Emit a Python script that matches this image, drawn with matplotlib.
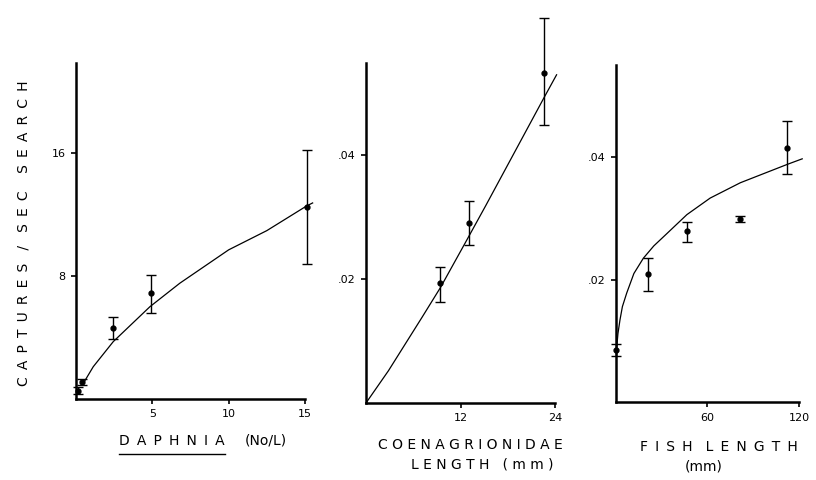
import numpy as np
import matplotlib
matplotlib.use("Agg")
import matplotlib.pyplot as plt
from matplotlib.lines import Line2D

plt.rcParams['font.family'] = ['DejaVu Sans']

# Daphnia density (No/L)
daph_x = [0.1, 0.4, 2.4, 4.9, 15.1]
daph_y = [0.55, 1.1, 4.6, 6.9, 12.5]
daph_lo = [0.35, 0.9, 3.9, 5.6, 8.8]
daph_hi = [0.75, 1.3, 5.3, 8.05, 16.2]
daph_fit_x = [0.48, 1.13, 2.44, 4.84, 6.8, 10.0, 12.5, 15.1, 15.5]
daph_fit_y = [1.02, 2.10, 3.73, 6.0, 7.53, 9.7, 10.95, 12.55, 12.75]

# Coenagrionidae length (mm)
coen_x = [9.45, 13.1, 22.6]
coen_y = [0.0193, 0.0290, 0.0532]
coen_lo = [0.0163, 0.0255, 0.0448]
coen_hi = [0.0220, 0.0326, 0.0621]
coen_fit_x = [0, 2.85, 7.11, 9.45, 12.64, 15.2, 22.6, 24.2]
coen_fit_y = [0, 0.0052, 0.0138, 0.0186, 0.0259, 0.0318, 0.0492, 0.0529]

# fish length (mm)
fish_x = [0.2, 21.0, 47.0, 81.5, 112.2]
fish_y = [0.0085, 0.0209, 0.0279, 0.0299, 0.0415]
fish_lo = [0.0075, 0.0182, 0.0262, 0.0294, 0.0372]
fish_hi = [0.0095, 0.0236, 0.0294, 0.0304, 0.0459]
fish_fit_x = [0.8, 1.6, 2.9, 4.5, 7.3, 12.0, 18.2, 25.0, 33.5, 46.6, 61.8, 81.5, 112.2, 121.9]
fish_fit_y = [0.0090, 0.0112, 0.0134, 0.0156, 0.0178, 0.0210, 0.0235, 0.0255,
              0.0275, 0.0306, 0.0333, 0.0358, 0.0388, 0.0397]

W, H = 816, 480
fig = plt.figure(figsize=(W / 100, H / 100), dpi=100)


def px_axes(x0, x1, ytop, ybot):
    return fig.add_axes([x0 / W, 1 - ybot / H, (x1 - x0) / W, (ybot - ytop) / H])


def style(ax, xt, xtl, yt, ytl, xlim, ylim):
    for s in ['top', 'right']:
        ax.spines[s].set_visible(False)
    for s in ['left', 'bottom']:
        ax.spines[s].set_linewidth(1.8)
    ax.set_xlim(*xlim)
    ax.set_ylim(*ylim)
    ax.set_xticks(xt)
    ax.set_xticklabels(xtl)
    ax.set_yticks(yt)
    ax.set_yticklabels(ytl)
    ax.tick_params(direction='out', length=3.5, width=1.2, labelsize=8, pad=4)


def draw(ax, x, y, lo, hi, fx, fy):
    y = np.array(y)
    err = [y - np.array(lo), np.array(hi) - y]
    ax.errorbar(x, y, yerr=err, fmt='o', color='black', ms=3.5,
                elinewidth=1.0, capsize=3.5, capthick=1.0, clip_on=False)
    ax.plot(fx, fy, color='black', lw=0.9, clip_on=False)


ax1 = px_axes(76, 305, 63, 399)
style(ax1, [5, 10, 15], ['5', '10', '15'], [8, 16], ['8', '16'], (0, 15), (0, 21.85))
draw(ax1, daph_x, daph_y, daph_lo, daph_hi, daph_fit_x, daph_fit_y)

ax2 = px_axes(366, 555, 63, 403)
style(ax2, [12, 24], ['12', '24'], [0.02, 0.04], ['.02', '.04'], (0, 24), (0, 0.0548))
draw(ax2, coen_x, coen_y, coen_lo, coen_hi, coen_fit_x, coen_fit_y)

ax3 = px_axes(615.5, 799.3, 65, 402.3)
style(ax3, [60, 120], ['60', '120'], [0.02, 0.04], ['.02', '.04'], (0, 120), (0, 0.055))
draw(ax3, fish_x, fish_y, fish_lo, fish_hi, fish_fit_x, fish_fit_y)

lab = dict(fontsize=10, ha='center', va='center')
ts = ' \u2009'
ylab = '   /   '.join([ts.join('CAPTURES'), ts.join('SEC')]) + '    ' + ts.join('SEARCH')
fig.text(24 / W, 1 - 233 / H, ylab, rotation=90, **lab)

t_daph = fig.text(172 / W, 1 - 441 / H, ts.join('DAPHNIA'), **lab)
fig.text(266 / W, 1 - 441 / H, '(No/L)', **lab)
fig.text(470 / W, 1 - 445 / H, 'C O E N A G R I O N I D A E', **lab)
fig.text(482 / W, 1 - 464 / H, 'L E N G T H   ( m m )', **lab)
fig.text(719 / W, 1 - 447 / H, ts.join('FISH') + '   ' + ts.join('LENGTH'), **lab)
fig.text(704 / W, 1 - 467 / H, '(mm)', **lab)

# underline the genus name
fig.canvas.draw()
bb = t_daph.get_window_extent().transformed(fig.transFigure.inverted())
fig.add_artist(Line2D([bb.x0, bb.x1], [1 - 454 / H] * 2, color='black', lw=1.0))

fig.savefig('out.png', dpi=100)
